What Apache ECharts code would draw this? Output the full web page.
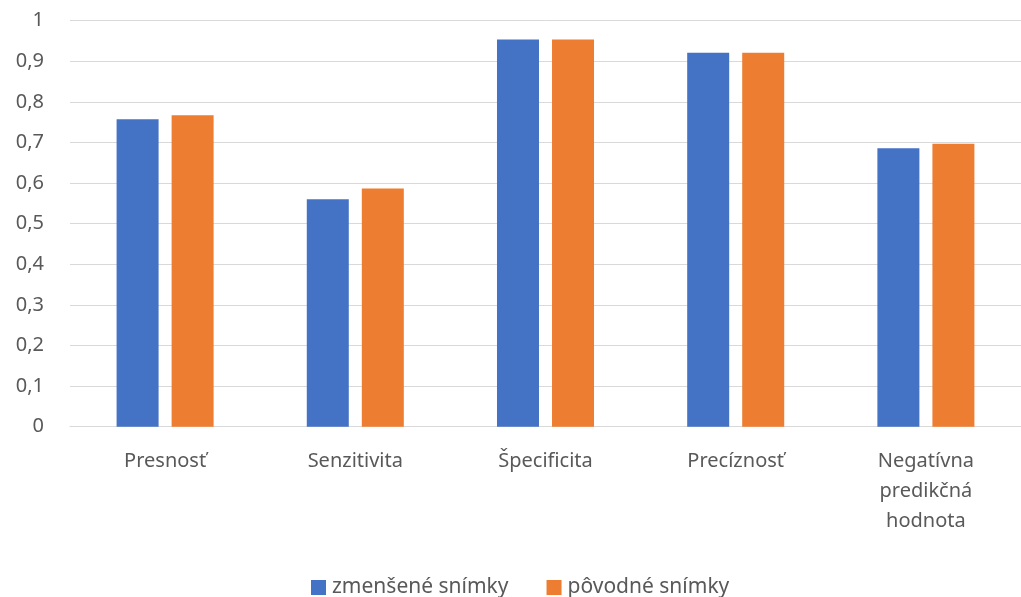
<!DOCTYPE html>
<html>
<head>
<meta charset="utf-8">
<script src="https://cdn.jsdelivr.net/npm/echarts@6/dist/echarts.min.js"></script>
<style>
  html, body { margin: 0; padding: 0; background: #fff; }
  #chart { width: 1021px; height: 597px; }
</style>
</head>
<body>
<div id="chart"></div>
<script>
// Metrics compared for downscaled vs. original images
const categories = ['Presnosť', 'Senzitivita', 'Špecificita', 'Precíznosť', 'Negatívna\npredikčná\nhodnota'];
const seriesNames = ['zmenšené snímky', 'pôvodné snímky'];
const downscaled = [0.757, 0.560, 0.954, 0.921, 0.686];
const original = [0.767, 0.587, 0.954, 0.921, 0.697];
const yTickLabels = ['0', '0,1', '0,2', '0,3', '0,4', '0,5', '0,6', '0,7', '0,8', '0,9', '1'];

const textColor = '#595959';
const gridColor = '#d9d9d9';
const font = '"Noto Sans", "Open Sans", sans-serif';

const chart = echarts.init(document.getElementById('chart'), null, { renderer: 'canvas' });
chart.setOption({
  animation: false,
  backgroundColor: '#ffffff',
  grid: { left: 70, top: 20.7, width: 957, bottom: 170.3, containLabel: false },
  legend: {
    data: seriesNames,
    left: 306,
    top: 572,
    itemWidth: 15,
    itemHeight: 15,
    itemGap: 38,
    icon: 'rect',
    textStyle: { color: textColor, fontSize: 21, fontFamily: font, padding: [0, 0, 0, 1] }
  },
  xAxis: {
    type: 'category',
    data: categories,
    axisLine: { lineStyle: { color: gridColor, width: 1 } },
    axisTick: { show: false },
    axisLabel: {
      color: textColor,
      fontSize: 20,
      fontFamily: font,
      lineHeight: 30,
      margin: 20,
      interval: 0
    }
  },
  yAxis: {
    type: 'value',
    min: 0,
    max: 1,
    interval: 0.1,
    axisLine: { show: false },
    axisTick: { show: false },
    splitLine: { lineStyle: { color: gridColor, width: 1 } },
    axisLabel: {
      color: textColor,
      fontSize: 20,
      fontFamily: font,
      margin: 26,
      formatter: v => yTickLabels[Math.round(v * 10)]
    }
  },
  series: [
    {
      name: seriesNames[0],
      type: 'bar',
      data: downscaled,
      barWidth: 42,
      barGap: '31%',
      itemStyle: { color: '#4472C4' }
    },
    {
      name: seriesNames[1],
      type: 'bar',
      data: original,
      barWidth: 42,
      barGap: '31%',
      itemStyle: { color: '#ED7D31' }
    }
  ]
});
</script>
</body>
</html>
